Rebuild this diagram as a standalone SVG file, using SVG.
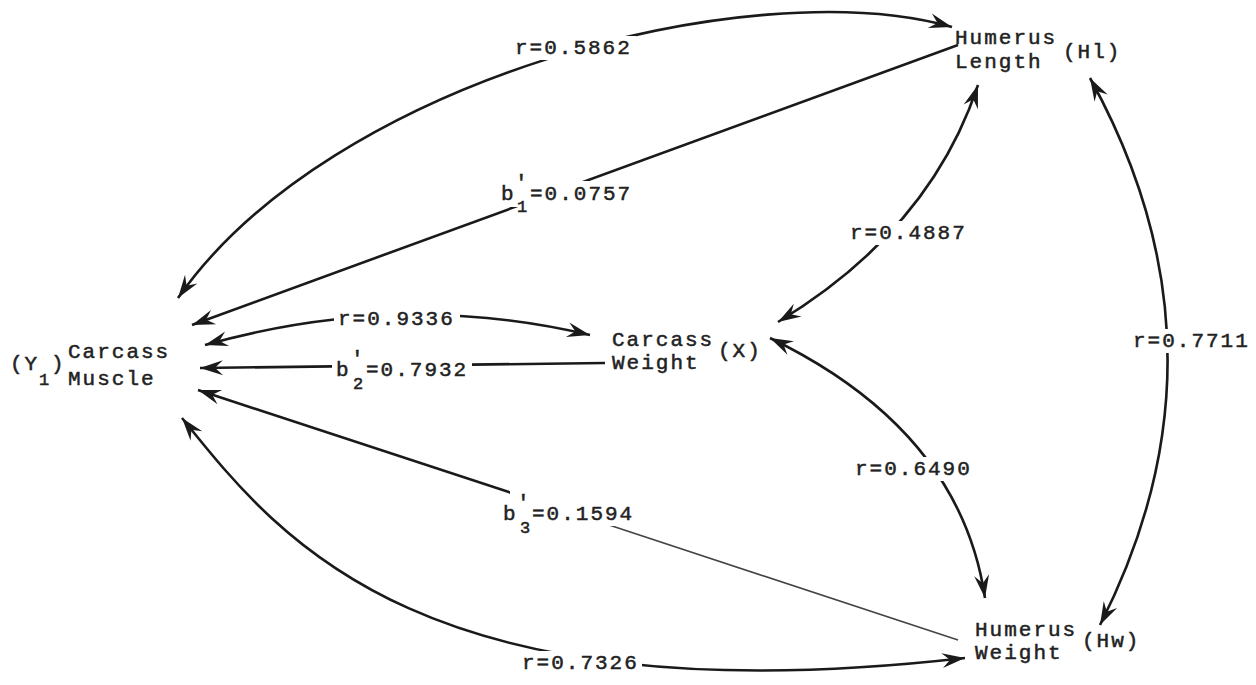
<svg xmlns="http://www.w3.org/2000/svg" width="1256" height="685" viewBox="0 0 1256 685">
<style>
.t{font-family:"Liberation Mono","DejaVu Sans Mono",monospace;font-size:21px;letter-spacing:2px;fill:#222;stroke:#222;stroke-width:0.5px}
.s{font-size:17px;letter-spacing:0}
.bg{fill:#fff}
.c{fill:none;stroke:#1a1a1a;stroke-width:2.6}
.thin{fill:none;stroke:#444;stroke-width:1.6}
.a1{marker-end:url(#ah)}
.a2{marker-end:url(#ah);marker-start:url(#ah)}
</style>
<defs>
<marker id="ah" markerUnits="userSpaceOnUse" viewBox="-26 -10 28 20" refX="0" refY="0" markerWidth="28" markerHeight="20" orient="auto-start-reverse">
<path d="M0,0 L-23,-7.5 L-15,0 L-23,7.5 Z" fill="#1a1a1a"/>
</marker>
</defs>
<rect width="1256" height="685" fill="#fff"/>
<g id="connectors">
<path class="c a2" d="M178,298 C330,80 750,-30 952,27"/>
<path class="c a1" d="M958,45 L192,325"/>
<path class="c a2" d="M978,85 Q930,230 778,322"/>
<path class="c a2" d="M1090,78 Q1240,350 1100,625"/>
<path class="c a2" d="M205,345 Q400,290 590,335"/>
<path class="c a1" d="M605,363 L200,368"/>
<path class="c a2" d="M770,338 Q960,430 985,598"/>
<path class="thin" d="M958,640 L600,522"/>
<path class="c a1" d="M600,522 L198,390"/>
<path class="c a2" d="M182,418 C280,540 420,720 965,658"/>
<rect class="bg" x="510" y="36" width="126" height="24"/>
<rect class="bg" x="497" y="181" width="142" height="26"/>
<rect class="bg" x="846" y="221" width="124" height="24"/>
<rect class="bg" x="334" y="307" width="126" height="24"/>
<rect class="bg" x="332" y="358" width="140" height="24"/>
<rect class="bg" x="1129" y="329" width="124" height="24"/>
<rect class="bg" x="851" y="457" width="124" height="24"/>
<rect class="bg" x="499" y="502" width="140" height="24"/>
<rect class="bg" x="510" y="486" width="50" height="18"/>
<rect class="bg" x="518" y="651" width="124" height="24"/>
<g class="t">
<text x="515" y="54">r=0.5862</text>
<text x="501" y="200">b</text><text class="s" x="517" y="212">1</text><text x="515" y="189">'</text><text x="530" y="200">=0.0757</text>
<text x="850" y="239">r=0.4887</text>
<text x="338" y="325">r=0.9336</text>
<text x="336" y="376">b</text><text class="s" x="353" y="389">2</text><text x="351" y="365">'</text><text x="366" y="376">=0.7932</text>
<text x="1133" y="347">r=0.7711</text>
<text x="855" y="475">r=0.6490</text>
<text x="503" y="520">b</text><text class="s" x="520" y="533">3</text><text x="517" y="509">'</text><text x="532" y="520">=0.1594</text>
<text x="522" y="669">r=0.7326</text>
</g>
</g>
<g id="node-y1" class="t">
<text x="10" y="370">(Y</text><text class="s" x="39" y="385">1</text><text x="51" y="370">)</text>
<text x="68" y="358">Carcass</text>
<text x="68" y="385">Muscle</text>
</g>
<g id="node-x" class="t">
<text x="612" y="346">Carcass</text>
<text x="612" y="369">Weight</text>
<text x="718" y="357">(X)</text>
</g>
<g id="node-hl" class="t">
<text x="955" y="44">Humerus</text>
<text x="955" y="68">Length</text>
<text x="1063" y="58">(Hl)</text>
</g>
<g id="node-hw" class="t">
<text x="975" y="636">Humerus</text>
<text x="975" y="659">Weight</text>
<text x="1082" y="647">(Hw)</text>
</g>
</svg>
